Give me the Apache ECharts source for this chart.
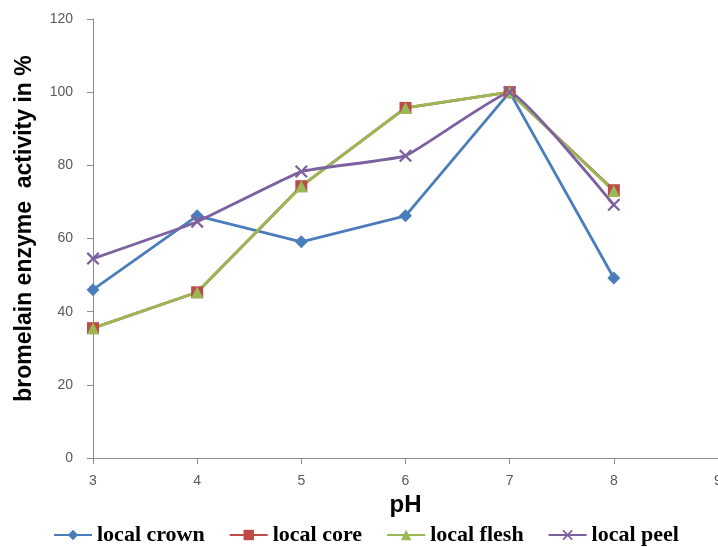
<!DOCTYPE html>
<html>
<head>
<meta charset="utf-8">
<script src="https://cdn.jsdelivr.net/npm/echarts@6/dist/echarts.min.js"></script>
<style>html,body{margin:0;padding:0;background:#fff;}#c{width:718px;height:547px;}</style>
</head>
<body>
<div id="c"></div>
<script>
var ph = [3, 4, 5, 6, 7, 8];
var crown = [46, 66.2, 59.1, 66.2, 100, 49.2];
var core = [35.5, 45.3, 74.3, 95.7, 100, 73.2];
var flesh = [35.5, 45.3, 74.3, 95.7, 100, 73.0];
var peel = [54.5, 64.6, 78.3, 82.6, 100, 69.2];
var yTicks = [0, 20, 40, 60, 80, 100, 120];
var seriesNames = ['local crown', 'local core', 'local flesh', 'local peel'];

function pairs(xs, ys) { return xs.map(function (x, i) { return [x, ys[i]]; }); }

var X_PATH = 'path://M0,1.2 L1.2,0 L5,3.8 L8.8,0 L10,1.2 L6.2,5 L10,8.8 L8.8,10 L5,6.2 L1.2,10 L0,8.8 L3.8,5 Z';

var chart = echarts.init(document.getElementById('c'), null, {renderer: 'canvas'});
chart.setOption({
  animation: false,
  backgroundColor: '#ffffff',
  grid: {left: 93, right: 0, top: 19, bottom: 89, containLabel: false, outerBoundsMode: 'none'},
  xAxis: {
    type: 'value', min: 3, max: 9, interval: 1,
    name: 'pH', nameLocation: 'middle', nameGap: 33,
    nameTextStyle: {fontFamily: 'Liberation Sans', fontWeight: 'bold', fontSize: 24, color: '#000'},
    axisLine: {show: true, lineStyle: {color: '#8c8c8c', width: 1}},
    axisTick: {show: true, length: 6, lineStyle: {color: '#8c8c8c'}},
    axisLabel: {margin: 16, fontFamily: 'Liberation Sans', fontSize: 14, color: '#595959'},
    splitLine: {show: false}
  },
  yAxis: {
    type: 'value', min: 0, max: 120, interval: 20,
    name: 'bromelain enzyme  activity in %', nameLocation: 'middle', nameGap: 57, nameRotate: 90,
    nameTextStyle: {fontFamily: 'Liberation Sans', fontWeight: 'bold', fontSize: 23, color: '#000', padding: [0, 0, 0, 20]},
    axisLine: {show: true, lineStyle: {color: '#8c8c8c', width: 1}},
    axisTick: {show: true, length: 6, lineStyle: {color: '#8c8c8c'}},
    axisLabel: {margin: 20, fontFamily: 'Liberation Sans', fontSize: 14, color: '#595959',
      formatter: function (v) { return yTicks.indexOf(v) >= 0 ? String(v) : ''; }},
    splitLine: {show: false}
  },
  legend: {
    left: 48, top: 519, itemWidth: 38, itemHeight: 13, itemGap: 24,
    textStyle: {fontFamily: 'Liberation Serif', fontWeight: 'bold', fontSize: 22, color: '#000'},
    data: seriesNames
  },
  series: [
    {name: seriesNames[0], type: 'line', data: pairs(ph, crown), symbol: 'diamond', symbolSize: 13,
      lineStyle: {color: '#4a7ebb', width: 2.8}, itemStyle: {color: '#4a7ebb'}},
    {name: seriesNames[1], type: 'line', data: pairs(ph, core), symbol: 'rect', symbolSize: 12,
      lineStyle: {color: '#be4b48', width: 2.8}, itemStyle: {color: '#be4b48'}},
    {name: seriesNames[2], type: 'line', data: pairs(ph, flesh), symbol: 'triangle', symbolSize: 12,
      lineStyle: {color: '#98b954', width: 2.8}, itemStyle: {color: '#98b954'}},
    {name: seriesNames[3], type: 'line', data: pairs(ph, peel), symbol: X_PATH, symbolSize: 13, smooth: 0.1,
      lineStyle: {color: '#7d60a0', width: 2.8}, itemStyle: {color: '#7d60a0'}}
  ]
});
</script>
</body>
</html>
